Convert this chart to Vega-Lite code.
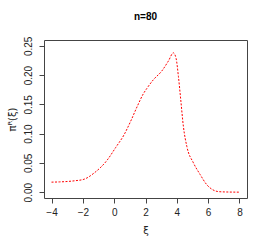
{
  "$schema": "https://vega.github.io/schema/vega-lite/v6.json",
  "width": 203,
  "height": 158,
  "autosize": {"type": "none"},
  "padding": {"left": 44, "top": 40, "right": 23, "bottom": 51},
  "background": "white",
  "title": {"text": "n=80", "font": "Liberation Sans", "fontSize": 10, "fontWeight": "bold", "color": "#000", "offset": 14, "anchor": "middle"},
  "config": {
    "view": {"stroke": "#444", "strokeWidth": 1},
    "axis": {"grid": false, "domain": false, "tickColor": "#444", "tickSize": 5, "labelFont": "Liberation Sans", "labelFontSize": 10, "labelColor": "#222", "titleFont": "DejaVu Sans", "titleFontWeight": "normal", "titleFontSize": 10, "titleColor": "#222"}
  },
  "data": {"values": [
    {"x": -4.0, "y": 0.0171},
    {"x": -3.5, "y": 0.0175},
    {"x": -3.0, "y": 0.0182},
    {"x": -2.5, "y": 0.0195},
    {"x": -1.93, "y": 0.022},
    {"x": -1.29, "y": 0.0325},
    {"x": -0.44, "y": 0.055},
    {"x": 0.09, "y": 0.076},
    {"x": 0.63, "y": 0.098},
    {"x": 1.05, "y": 0.121},
    {"x": 1.48, "y": 0.147},
    {"x": 1.86, "y": 0.168},
    {"x": 2.08, "y": 0.177},
    {"x": 2.5, "y": 0.192},
    {"x": 3.04, "y": 0.207},
    {"x": 3.46, "y": 0.224},
    {"x": 3.78, "y": 0.238},
    {"x": 3.95, "y": 0.229},
    {"x": 4.1, "y": 0.198},
    {"x": 4.25, "y": 0.158},
    {"x": 4.42, "y": 0.112},
    {"x": 4.64, "y": 0.078},
    {"x": 5.06, "y": 0.05},
    {"x": 5.49, "y": 0.03},
    {"x": 5.92, "y": 0.0125},
    {"x": 6.3, "y": 0.004},
    {"x": 6.7, "y": 0.0008},
    {"x": 7.3, "y": 0.0002},
    {"x": 8.0, "y": 0.0}
  ]},
  "mark": {"type": "line", "color": "#ff0000", "strokeWidth": 1, "strokeDash": [2, 1.5], "interpolate": "monotone"},
  "encoding": {
    "x": {"field": "x", "type": "quantitative", "scale": {"domain": [-4.48, 8.48], "nice": false, "zero": false},
      "axis": {"values": [-4, -2, 0, 2, 4, 6, 8], "format": "d", "title": "ξ", "labelPadding": 4, "titleFontSize": 10, "titlePadding": 8}},
    "y": {"field": "y", "type": "quantitative", "scale": {"domain": [-0.01, 0.26], "nice": false, "zero": false},
      "axis": {"values": [0, 0.05, 0.1, 0.15, 0.2, 0.25], "format": ".2f", "labelAngle": -90, "labelAlign": "center", "labelBaseline": "bottom", "labelPadding": 6, "title": "πᴿ(ξ)", "titlePadding": 6}}
  }
}
